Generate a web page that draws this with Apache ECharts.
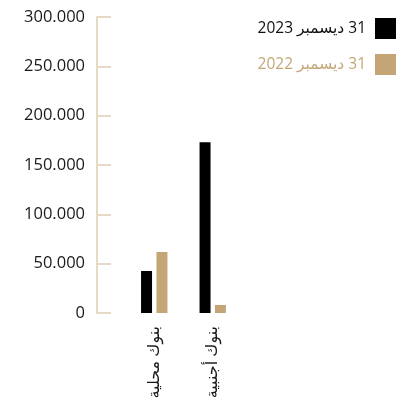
<!DOCTYPE html>
<html>
<head>
<meta charset="utf-8">
<script src="https://cdn.jsdelivr.net/npm/echarts@6/dist/echarts.min.js"></script>
<style>
  html, body { margin: 0; padding: 0; background: #fff; }
  #chart { width: 401px; height: 409px; }
</style>
</head>
<body>
<div id="chart"></div>
<script>
// Bank balances by bank type, year-end comparison
const categories = ['بنوك محلية', 'بنوك أجنبية'];
const seriesNames = ['\u200F31 ديسمبر 2023', '\u200F31 ديسمبر 2022'];
const values2023 = [42600, 173000];
const values2022 = [61800, 8100];
const yTicks = [0, 50000, 100000, 150000, 200000, 250000, 300000];

const BLACK = '#000000';
const TAN = '#c4a676';
const AXIS = '#e6dac4';
const FONT = '"Open Sans", "DejaVu Sans", sans-serif';

function fmt(v) {
  return v === 0 ? '0' : String(v).replace(/\B(?=(\d{3})+(?!\d))/g, '.');
}

const chart = echarts.init(document.getElementById('chart'), null, { renderer: 'canvas' });
chart.setOption({
  animation: false,
  backgroundColor: '#fff',
  grid: { left: 125, right: 159, top: 17, bottom: 96, containLabel: false },
  legend: {
    orient: 'vertical',
    right: 0,
    top: 13,
    align: 'right',
    icon: 'rect',
    itemWidth: 21,
    itemHeight: 21,
    itemGap: 15,
    textStyle: { fontFamily: FONT, fontSize: 15.5, fontWeight: 500, padding: [0, 4, 0, 0] },
    data: [
      { name: seriesNames[0], textStyle: { color: '#111' } },
      { name: seriesNames[1], textStyle: { color: TAN } }
    ]
  },
  xAxis: {
    type: 'category',
    data: categories,
    axisLine: { show: false },
    axisTick: { show: false },
    axisLabel: {
      rotate: 90,
      margin: 13,
      color: '#1a1a1a',
      fontFamily: FONT,
      fontSize: 16,
      padding: [0, 0, 11, 0]
    }
  },
  yAxis: {
    type: 'value',
    min: yTicks[0],
    max: yTicks[yTicks.length - 1],
    interval: yTicks[1] - yTicks[0],
    offset: 28,
    splitLine: { show: false },
    axisLine: { show: true, lineStyle: { color: AXIS, width: 2 } },
    axisTick: { show: true, inside: true, length: 14, lineStyle: { color: AXIS, width: 2 } },
    axisLabel: {
      margin: 12,
      color: '#1a1a1a',
      fontFamily: FONT,
      fontSize: 16.5,
      fontWeight: 500,
      formatter: fmt
    }
  },
  series: [
    {
      name: seriesNames[0],
      type: 'bar',
      data: values2023,
      barWidth: 11,
      barGap: '40%',
      itemStyle: { color: BLACK }
    },
    {
      name: seriesNames[1],
      type: 'bar',
      data: values2022,
      barWidth: 11,
      itemStyle: { color: TAN }
    }
  ]
});
</script>
</body>
</html>
